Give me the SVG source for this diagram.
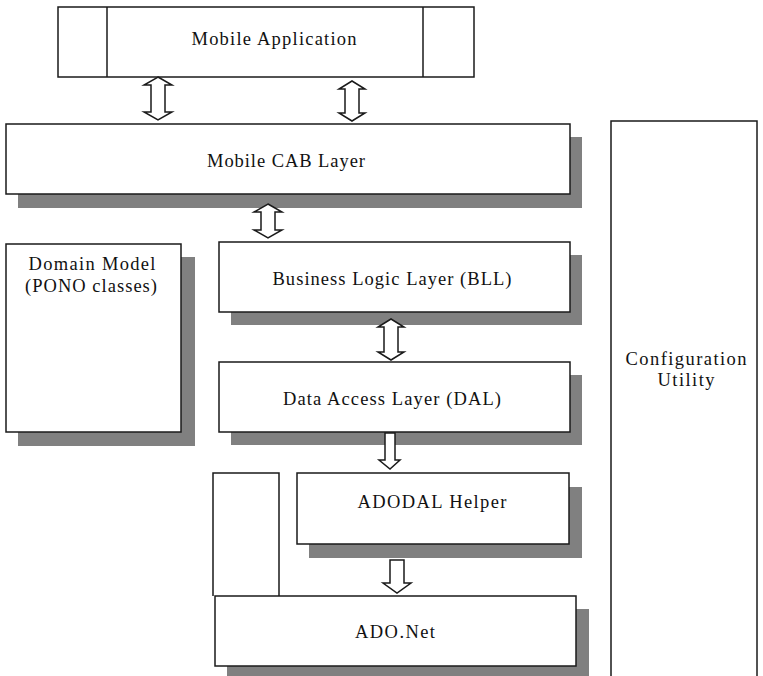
<svg xmlns="http://www.w3.org/2000/svg" width="763" height="676" viewBox="0 0 763 676">
<style>
.box{fill:#fff;stroke:#1a1a1a;stroke-width:1.5}
.shd{fill:#808080;stroke:none}
.arr{fill:#fff;stroke:#1a1a1a;stroke-width:1.5;stroke-linejoin:miter}
text{font-family:"Liberation Serif","Times New Roman",serif;font-size:18.5px;fill:#111;text-anchor:middle}
</style>
<rect width="763" height="676" fill="#fff"/>
<g id="mobile-app">
<rect class="box" x="58" y="7" width="416" height="70"/>
<line x1="107" y1="7" x2="107" y2="77" stroke="#1a1a1a" stroke-width="1.5"/>
<line x1="423" y1="7" x2="423" y2="77" stroke="#1a1a1a" stroke-width="1.5"/>
<text x="274" y="45" textLength="165" lengthAdjust="spacing">Mobile Application</text>
</g>
<g id="cab-layer">
<rect class="shd" x="18" y="137" width="564" height="71"/>
<rect class="box" x="6" y="124" width="564" height="70"/>
<text x="286" y="167" textLength="158" lengthAdjust="spacing">Mobile CAB Layer</text>
</g>
<g id="config-utility">
<rect class="box" x="611" y="121" width="146" height="570"/>
<text x="686" y="365" textLength="121" lengthAdjust="spacing">Configuration</text>
<text x="686" y="386" textLength="57" lengthAdjust="spacing">Utility</text>
</g>
<g id="domain-model">
<rect class="shd" x="18" y="257" width="177" height="189"/>
<rect class="box" x="6" y="244" width="175" height="188"/>
<text x="92" y="270" textLength="127" lengthAdjust="spacing">Domain Model</text>
<text x="91" y="292" textLength="132" lengthAdjust="spacing">(PONO classes)</text>
</g>
<g id="bll">
<rect class="shd" x="231" y="255" width="351" height="70"/>
<rect class="box" x="219" y="242" width="351" height="70"/>
<text x="392" y="285" textLength="239" lengthAdjust="spacing">Business Logic Layer (BLL)</text>
</g>
<g id="dal">
<rect class="shd" x="231" y="375" width="351" height="70"/>
<rect class="box" x="219" y="362" width="351" height="70"/>
<text x="392" y="405" textLength="218" lengthAdjust="spacing">Data Access Layer (DAL)</text>
</g>
<g id="side-block">
<path d="M213,596 V473 H279 V596" fill="#fff" stroke="#1a1a1a" stroke-width="1.5"/>
</g>
<g id="adodal-helper">
<rect class="shd" x="309" y="487" width="273" height="71"/>
<rect class="box" x="297" y="473" width="272" height="71"/>
<text x="432" y="508" textLength="149" lengthAdjust="spacing">ADODAL Helper</text>
</g>
<g id="ado-net">
<rect class="shd" x="227" y="609" width="362" height="71"/>
<rect class="box" x="215" y="596" width="361" height="70"/>
<text x="395" y="638" textLength="80" lengthAdjust="spacing">ADO.Net</text>
</g>
<g id="connectors">
<polygon class="arr" points="158,77 172,85 165,85 165,112 172,112 158,120 144,112 151,112 151,85 144,85"/>
<polygon class="arr" points="352,81 365,89 359,89 359,113 365,113 352,121 339,113 345,113 345,89 339,89"/>
<polygon class="arr" points="268,204 282,212 275,212 275,230 282,230 268,238 254,230 261,230 261,212 254,212"/>
<polygon class="arr" points="391,319 404,327 398,327 398,352 404,352 391,360 378,352 384,352 384,327 378,327"/>
<polygon class="arr" points="385,433 395,433 395,460 400,460 390,469 379,460 385,460"/>
<polygon class="arr" points="390,560 404,560 404,583 411,583 397,593 383,583 390,583"/>
</g>
</svg>
